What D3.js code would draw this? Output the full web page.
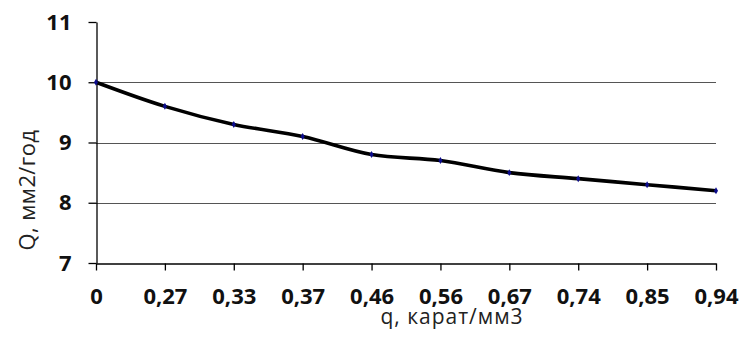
<!DOCTYPE html>
<html>
<head>
<meta charset="utf-8">
<script src="https://cdn.jsdelivr.net/npm/d3@7"></script>
<style>
  body { margin: 0; background: #fff; }
  svg { display: block; }
</style>
</head>
<body>
<div id="chart"></div>
<script>
// data
const categories = ['0', '0,27', '0,33', '0,37', '0,46', '0,56', '0,67', '0,74', '0,85', '0,94'];
const qValues = [10, 9.6, 9.3, 9.1, 8.8, 8.7, 8.5, 8.4, 8.3, 8.2];
const yTicks = [7, 8, 9, 10, 11];
const gridValues = [8, 9, 10];

const width = 742;
const height = 352;
const margin = { top: 22, right: 26, bottom: 89, left: 96 };
const innerW = width - margin.left - margin.right;
const innerH = height - margin.top - margin.bottom;

const svg = d3.select('#chart')
  .append('svg')
  .attr('width', width)
  .attr('height', height);

const g = svg.append('g')
  .attr('transform', `translate(${margin.left},${margin.top})`);

const x = d3.scalePoint()
  .domain(categories)
  .range([0, innerW]);

const y = d3.scaleLinear()
  .domain([7, 11])
  .range([innerH, 0]);

// gridlines
g.append('g')
  .selectAll('line')
  .data(gridValues)
  .join('line')
  .attr('x1', 0)
  .attr('x2', innerW)
  .attr('y1', d => Math.round(y(d)) + 0.5)
  .attr('y2', d => Math.round(y(d)) + 0.5)
  .attr('stroke', '#555')
  .attr('stroke-width', 1.2);

// y axis
const yAxis = g.append('g')
  .attr('transform', 'translate(0.5,0)')
  .call(d3.axisLeft(y).tickValues(yTicks).tickFormat(d3.format('d'))
    .tickSize(8).tickSizeOuter(0).tickPadding(17));

// x axis
const xAxis = g.append('g')
  .attr('transform', `translate(0,${innerH + 0.5})`)
  .call(d3.axisBottom(x).tickSize(7).tickSizeOuter(0).tickPadding(18));

[yAxis, xAxis].forEach(ax => {
  ax.selectAll('path, line').attr('stroke', '#000').attr('stroke-width', 1.3);
  ax.selectAll('text')
    .attr('fill', '#111')
    .style('font-family', '"Open Sans", sans-serif')
    .style('font-weight', 'bold')
    .style('font-size', '22px');
});

// smoothed line
const line = d3.line()
  .x((d, i) => x(categories[i]))
  .y(d => y(d))
  .curve(d3.curveCatmullRom.alpha(0.5));

g.append('path')
  .datum(qValues)
  .attr('fill', 'none')
  .attr('stroke', '#000')
  .attr('stroke-width', 3.6)
  .attr('d', line);

// small diamond markers
g.append('g')
  .selectAll('path')
  .data(qValues)
  .join('path')
  .attr('transform', (d, i) => `translate(${x(categories[i])},${y(d)})`)
  .attr('d', d3.symbol(d3.symbolDiamond, 14))
  .attr('fill', '#0b0b8c');

// axis titles
svg.append('text')
  .attr('x', 452)
  .attr('y', 324)
  .attr('text-anchor', 'middle')
  .style('font-family', '"Open Sans", sans-serif')
  .style('font-size', '21px')
  .style('letter-spacing', '1px')
  .attr('fill', '#222')
  .text('q, карат/мм3');

svg.append('text')
  .attr('transform', 'translate(35,190) rotate(-90)')
  .attr('text-anchor', 'middle')
  .style('font-family', '"Open Sans", sans-serif')
  .style('font-size', '22px')
  .style('letter-spacing', '0.4px')
  .attr('fill', '#222')
  .text('Q, мм2/год');
</script>
</body>
</html>
